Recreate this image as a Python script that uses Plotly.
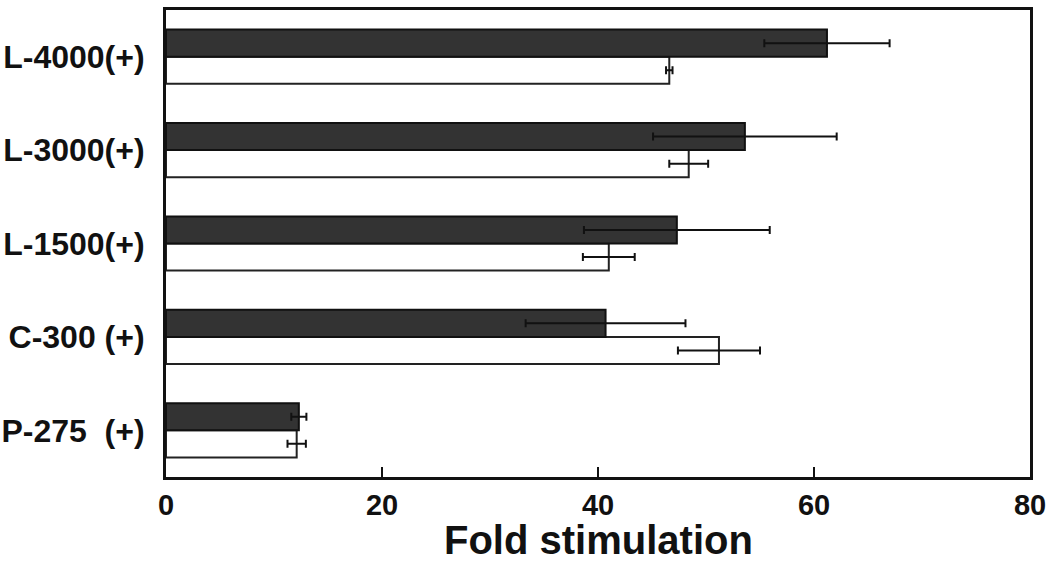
import plotly.graph_objects as go

categories = ["P-275\u00a0 (+)", "C-300 (+)", "L-1500(+)", "L-3000(+)", "L-4000(+)"]
dark_values = [12.3, 40.7, 47.3, 53.6, 61.2]
dark_errors = [0.7, 7.4, 8.6, 8.5, 5.8]
white_values = [12.1, 51.2, 41.0, 48.4, 46.6]
white_errors = [0.85, 3.8, 2.4, 1.8, 0.3]
x_ticks = [0, 20, 40, 60, 80]
x_title = "Fold stimulation"

fig = go.Figure()
fig.add_trace(go.Bar(
    y=categories, x=white_values, orientation="h",
    marker=dict(color="white", line=dict(color="#222222", width=2)),
    error_x=dict(type="data", array=white_errors, color="#111111", thickness=2, width=4),
    showlegend=False,
))
fig.add_trace(go.Bar(
    y=categories, x=dark_values, orientation="h",
    marker=dict(color="#333333", line=dict(color="#111111", width=2)),
    error_x=dict(type="data", array=dark_errors, color="#111111", thickness=2, width=4),
    showlegend=False,
))

fig.update_layout(
    width=1050, height=562,
    margin=dict(l=166, r=20, t=10, b=85, autoexpand=False),
    paper_bgcolor="white", plot_bgcolor="white",
    barmode="group", bargap=0.42, bargroupgap=0,
    font=dict(family="Liberation Sans, Arial, sans-serif", color="#111111"),
)
fig.update_xaxes(
    range=[0, 80], tickvals=x_ticks, ticktext=[str(v) for v in x_ticks],
    showgrid=False, zeroline=False, automargin=False,
    showline=True, linecolor="#111111", linewidth=3, mirror=True,
    ticks="inside", ticklen=10, tickwidth=2, tickcolor="#111111",
    tickfont=dict(size=29, family="Liberation Sans, Arial, sans-serif", weight="bold"),
)
fig.update_yaxes(
    categoryorder="array", categoryarray=categories,
    range=[-0.5, 4.5], automargin=False,
    showgrid=False, zeroline=False,
    showline=True, linecolor="#111111", linewidth=3, mirror=True,
    ticks="", ticklen=0, ticklabelstandoff=12,
    tickfont=dict(size=32, family="Liberation Sans, Arial, sans-serif", weight="bold"),
)
fig.add_annotation(
    text="<b>" + x_title + "</b>", xref="paper", yref="paper", x=0.5, y=0,
    xanchor="center", yanchor="middle", yshift=-63, showarrow=False,
    font=dict(size=40, family="Liberation Sans, Arial, sans-serif", color="#111111"),
)

fig.write_html(
    "out.html",
    config={"displayModeBar": False},
    post_script="document.body.style.margin='0';",
)
